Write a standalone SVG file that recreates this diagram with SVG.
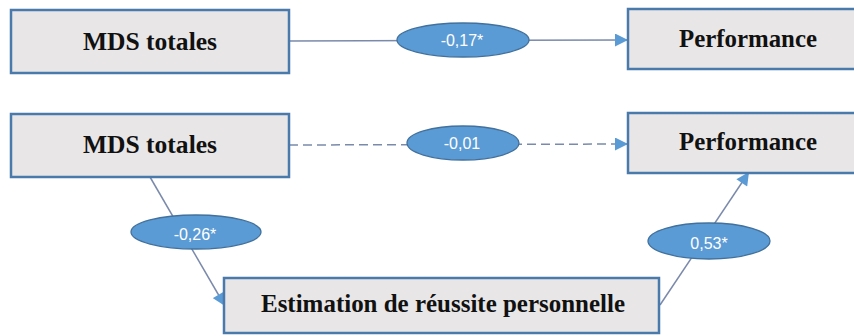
<svg xmlns="http://www.w3.org/2000/svg" width="854" height="336" viewBox="0 0 854 336">
<style>
.box{fill:#e8e6e7;stroke:#4a7aab;stroke-width:2.5}
.lbl{font-family:"Liberation Serif","Times New Roman",serif;font-weight:bold;font-size:25px;fill:#111;text-anchor:middle}
.conn{stroke:#7a8aab;stroke-width:1.5;fill:none}
.dash{stroke-dasharray:9 5}
.ell{fill:#5b9bd5;stroke:#41719c;stroke-width:1.3}
.val{font-family:"Liberation Sans",Arial,sans-serif;font-size:16px;fill:#ffffff;text-anchor:middle}
</style>
<defs>
<marker id="arr" viewBox="0 0 10 10" refX="10" refY="5" markerWidth="14" markerHeight="13" markerUnits="userSpaceOnUse" orient="auto">
<path d="M0,0 L10,5 L0,10 z" fill="#5b9bd5"/>
</marker>
</defs>
<rect width="854" height="336" fill="#ffffff"/>
<g id="connectors">
<line class="conn" x1="289" y1="41" x2="628" y2="40" marker-end="url(#arr)"/>
<line class="conn dash" x1="289" y1="145" x2="628" y2="144" marker-end="url(#arr)"/>
<line class="conn" x1="150" y1="177" x2="225" y2="306" marker-end="url(#arr)"/>
<line class="conn" x1="660" y1="305" x2="749" y2="172" marker-end="url(#arr)"/>
</g>
<g id="labels">
<g id="lbl-017"><ellipse class="ell" cx="463" cy="40" rx="66" ry="17"/><text class="val" x="462" y="46">-0,17*</text></g>
<g id="lbl-001"><ellipse class="ell" cx="463" cy="143" rx="56" ry="17"/><text class="val" x="462" y="149">-0,01</text></g>
<g id="lbl-026"><ellipse class="ell" cx="196" cy="232" rx="65" ry="17"/><text class="val" x="195" y="240">-0,26*</text></g>
<g id="lbl-053"><ellipse class="ell" cx="709" cy="241" rx="61" ry="18"/><text class="val" x="709" y="249">0,53*</text></g>
</g>
<g id="mds1"><rect class="box" x="11" y="10" width="278" height="63"/><text class="lbl" x="150" y="50" textLength="134" lengthAdjust="spacingAndGlyphs">MDS totales</text></g>
<g id="perf1"><rect class="box" x="628" y="9" width="232" height="60"/><text class="lbl" x="748" y="47" textLength="138" lengthAdjust="spacingAndGlyphs">Performance</text></g>
<g id="mds2"><rect class="box" x="11" y="114" width="278" height="63"/><text class="lbl" x="150" y="153" textLength="134" lengthAdjust="spacingAndGlyphs">MDS totales</text></g>
<g id="perf2"><rect class="box" x="628" y="113" width="232" height="60"/><text class="lbl" x="748" y="150" textLength="138" lengthAdjust="spacingAndGlyphs">Performance</text></g>
<g id="estimation"><rect class="box" x="224" y="278" width="435" height="55"/><text class="lbl" x="443" y="312" textLength="364" lengthAdjust="spacingAndGlyphs">Estimation de réussite personnelle</text></g>
</svg>
